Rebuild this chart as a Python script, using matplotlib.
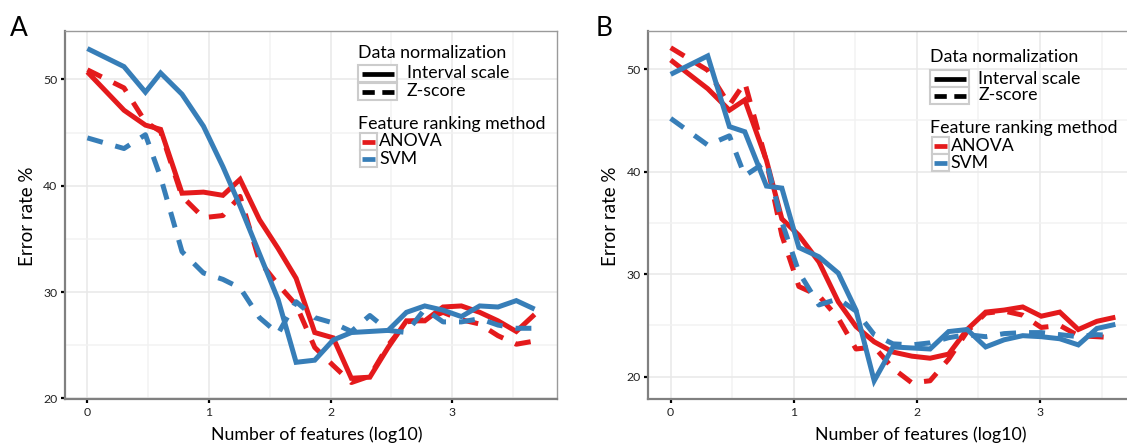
import numpy as np
import matplotlib
matplotlib.use("Agg")
import matplotlib.pyplot as plt
from matplotlib.lines import Line2D
from matplotlib.patches import Rectangle

plt.rcParams['font.family'] = ['Lato', 'DejaVu Sans']

W, H = 1127, 443

# number of features tested in each panel
feat_a = [1, 2, 3, 4, 6, 9, 13, 18, 26, 37, 52, 74, 105, 148, 210, 297,
          420, 594, 840, 1188, 1680, 2376, 3360, 4752]
feat_b = [1, 2, 3, 4, 6, 8, 11, 16, 23, 32, 45, 64, 91, 128, 181, 256,
          362, 512, 724, 1024, 1448, 2048, 2896, 4096]

# panel A error rates (%)
a_anova_interval = [50.7, 47.1, 45.7, 45.3, 39.3, 39.4, 39.1, 40.6, 36.8, 34.1, 31.3, 26.2,
                    25.7, 21.9, 22.0, 24.8, 27.3, 27.3, 28.6, 28.7, 28.1, 27.3, 26.3, 27.9]
a_anova_zscore = [50.9, 49.2, 46.0, 45.1, 39.0, 37.0, 37.2, 39.0, 32.9, 30.7, 28.8, 24.8,
                  23.1, 21.5, 22.1, 25.0, 27.2, 27.4, 28.1, 27.4, 27.0, 25.9, 25.1, 25.4]
a_svm_interval = [52.9, 51.2, 48.8, 50.6, 48.6, 45.6, 41.8, 38.1, 33.6, 29.3, 23.4, 23.6,
                  25.5, 26.2, 26.3, 26.4, 28.1, 28.7, 28.3, 27.7, 28.7, 28.6, 29.2, 28.4]
a_svm_zscore = [44.5, 43.5, 44.8, 40.8, 33.8, 31.8, 31.2, 30.4, 27.6, 26.1, 29.1, 27.6,
                27.1, 26.3, 27.8, 26.4, 26.2, 28.4, 27.2, 27.2, 27.5, 26.9, 26.6, 26.6]

# panel B error rates (%)
b_anova_interval = [50.9, 48.1, 46.0, 47.0, 41.1, 35.4, 33.8, 31.2, 27.3, 24.9, 23.4, 22.4,
                    22.0, 21.8, 22.2, 24.6, 26.3, 26.5, 26.8, 25.9, 26.3, 24.6, 25.4, 25.8]
b_anova_zscore = [52.1, 49.9, 46.5, 48.7, 41.0, 33.8, 28.8, 27.9, 25.7, 22.7, 22.9, 20.8,
                  19.4, 19.6, 21.7, 24.4, 26.2, 26.4, 26.0, 24.8, 25.0, 24.0, 23.9, 23.8]
b_svm_interval = [49.5, 51.3, 44.4, 43.9, 38.6, 38.4, 32.6, 31.7, 30.1, 26.5, 19.6, 22.9,
                  22.8, 22.7, 24.4, 24.6, 22.9, 23.6, 24.0, 23.9, 23.7, 23.1, 24.7, 25.1]
b_svm_zscore = [45.2, 42.6, 43.5, 39.6, 41.0, 35.1, 30.2, 27.0, 27.6, 26.4, 24.1, 23.2,
                23.1, 23.3, 23.8, 24.1, 23.9, 24.2, 24.3, 24.3, 24.1, 23.9, 24.1, 24.0]

RED = '#e41a1c'
BLUE = '#377eb8'
LW = 3.6
DASH = (0, (3.2, 2.6))


def px(x, y):
    return x / W, 1 - y / H


fig = plt.figure(figsize=(W / 100, H / 100), dpi=100)


def make_axes(left, right, top, bottom, xlim, ylim):
    x0, y0 = px(left, bottom)
    x1, y1 = px(right, top)
    ax = fig.add_axes([x0, y0, x1 - x0, y1 - y0])
    ax.set_xlim(*xlim)
    ax.set_ylim(*ylim)
    ax.set_xticks([0, 1, 2, 3])
    ax.set_xticks([0.5, 1.5, 2.5, 3.5], minor=True)
    ax.set_yticks([20, 30, 40, 50])
    ax.set_yticks([25, 35, 45], minor=True)
    ax.grid(which='major', color='#e8e8e8', lw=1.1)
    ax.grid(which='minor', color='#f2f2f2', lw=1.1)
    ax.set_axisbelow(True)
    ax.tick_params(which='major', length=3, width=1.6, color='black',
                   labelsize=8.8, labelcolor='#222222', pad=2.5)
    ax.tick_params(which='minor', length=0)
    for side in ['top', 'right']:
        ax.spines[side].set_color('#9a9a9a')
        ax.spines[side].set_linewidth(1.0)
    for side in ['left', 'bottom']:
        ax.spines[side].set_color('#808080')
        ax.spines[side].set_linewidth(1.6)
    return ax


def draw_lines(ax, feats, ai, az, si, sz):
    x = np.log10(feats)
    ax.plot(x, ai, color=RED, lw=LW, solid_joinstyle='miter', solid_capstyle='butt')
    ax.plot(x, az, color=RED, lw=LW, ls=DASH, dash_capstyle='butt')
    ax.plot(x, si, color=BLUE, lw=LW, solid_joinstyle='miter', solid_capstyle='butt')
    ax.plot(x, sz, color=BLUE, lw=LW, ls=DASH, dash_capstyle='butt')


def draw_legend(x, y_title1, y_keys1, x_text1, y_title2, y_keys2, x_text2):
    fs = 12.8
    fig.text(*px(x, y_title1), 'Data normalization', fontsize=fs, va='center', ha='left')
    labels1 = ['Interval scale', 'Z-score']
    styles = ['-', (0, (2.6, 1.6))]
    for i, yk in enumerate(y_keys1):
        x0, y0 = px(x, yk + 17)
        x1, y1 = px(x + 39, yk)
        fig.add_artist(Rectangle((x0, y0), x1 - x0, y1 - y0, transform=fig.transFigure,
                                 facecolor='white', edgecolor='#cccccc', lw=1.5))
        la, lb = px(x + 3.5, yk + 8.5)
        lc, _ = px(x + 35.5, yk + 8.5)
        fig.add_artist(Line2D([la, lc], [lb, lb], transform=fig.transFigure,
                              color='black', lw=3.4, ls=styles[i], solid_capstyle='butt',
                              dash_capstyle='butt'))
        fig.text(*px(x_text1, yk + 8.5), labels1[i], fontsize=fs, va='center', ha='left')
    fig.text(*px(x, y_title2), 'Feature ranking method', fontsize=fs, va='center', ha='left')
    labels2 = ['ANOVA', 'SVM']
    colors = [RED, BLUE]
    for i, yk in enumerate(y_keys2):
        x0, y0 = px(x + 2, yk + 17)
        x1, y1 = px(x + 19, yk)
        fig.add_artist(Rectangle((x0, y0), x1 - x0, y1 - y0, transform=fig.transFigure,
                                 facecolor='white', edgecolor='#cccccc', lw=1.5))
        la, lb = px(x + 4, yk + 8.5)
        lc, _ = px(x + 17, yk + 8.5)
        fig.add_artist(Line2D([la, lc], [lb, lb], transform=fig.transFigure,
                              color=colors[i], lw=3.4, solid_capstyle='butt'))
        fig.text(*px(x_text2, yk + 8.5), labels2[i], fontsize=fs, va='center', ha='left')


ax_a = make_axes(65, 557, 31, 399, (-0.184, 3.861), (19.95, 54.55))
draw_lines(ax_a, feat_a, a_anova_interval, a_anova_zscore, a_svm_interval, a_svm_zscore)

ax_b = make_axes(648.4, 1137.6, 31, 399, (-0.181, 3.793), (17.82, 53.73))
draw_lines(ax_b, feat_b, b_anova_interval, b_anova_zscore, b_svm_interval, b_svm_zscore)

# axis titles
fig.text(*px(316.6, 434.5), 'Number of features (log10)', fontsize=12.8, ha='center', va='center')
fig.text(*px(920.8, 434.5), 'Number of features (log10)', fontsize=12.8, ha='center', va='center')
fig.text(*px(28, 216), 'Error rate %', fontsize=13.5, rotation=90, ha='center', va='center')
fig.text(*px(610, 216), 'Error rate %', fontsize=13.5, rotation=90, ha='center', va='center')

# panel letters
fig.text(*px(19, 28), 'A', fontsize=19, ha='center', va='center')
fig.text(*px(604, 28), 'B', fontsize=19, ha='center', va='center')

draw_legend(358, 53.3, [65, 83], 406.7, 124.3, [133, 150], 379.3)
draw_legend(930, 56.7, [70, 87], 978.3, 128.3, [137.3, 154], 950.7)

fig.savefig('out.png', dpi=100)
